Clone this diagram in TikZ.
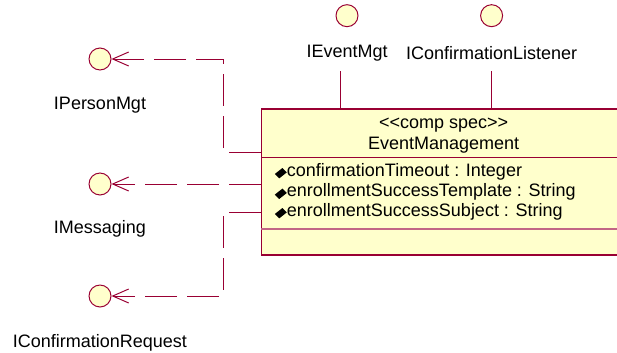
\documentclass[tikz,border=0pt]{standalone}
\usepackage{fontspec}
\setmainfont{Liberation Sans}
\usetikzlibrary{arrows.meta}
\definecolor{umlred}{RGB}{153,0,51}
\definecolor{umlfill}{RGB}{255,255,204}

\begin{document}
\begin{tikzpicture}[
  iface/.style={circle,draw=umlred,fill=umlfill,line width=0.7pt,minimum size=0.55cm,inner sep=0pt},
  lbl/.style={font=\fontsize{12.8}{15}\selectfont,inner sep=0pt},
  dep/.style={draw=umlred,line width=0.7pt,dash pattern=on 0.8cm off 0.25cm,-{Straight Barb[length=0.4cm,width=0.35cm]}},
  real/.style={draw=umlred,line width=0.7pt}
]
\useasboundingbox (0,0) rectangle (15.425,8.8);
\clip (0,0) rectangle (15.425,8.8);

% component box
\node[draw=umlred,fill=umlfill,line width=1pt,minimum width=10cm,minimum height=3.6675cm,anchor=north west,inner sep=0pt] (em) at (6.525,6.0925) {};
\draw[umlred,line width=1.3pt] (6.525,2.425) -- (16.5,2.425);
\draw[umlred,line width=1pt] (6.525,4.8675) -- (16.5,4.8675);
\draw[umlred!60,line width=1pt] (6.525,3.075) -- (16.5,3.075);
\node[lbl] at (11.09,5.675) {{<}{<}comp spec{>}{>}};
\node[lbl] at (11.09,5.175) {EventManagement};
\fill (6.87,4.45) -- (7.06,4.6) -- (7.17,4.49) -- (6.98,4.34) -- cycle;
\node[lbl,anchor=west] at (7.1675,4.5075) {confirmationTimeout : Integer};
\fill (6.87,3.935) -- (7.06,4.085) -- (7.17,3.975) -- (6.98,3.825) -- cycle;
\node[lbl,anchor=west] at (7.1675,3.9925) {enrollmentSuccessTemplate : String};
\fill (6.87,3.45) -- (7.06,3.6) -- (7.17,3.49) -- (6.98,3.34) -- cycle;
\node[lbl,anchor=west] at (7.1675,3.5075) {enrollmentSuccessSubject : String};

% provided interfaces
\node[iface] (ev) at (8.675,8.408) {};
\node[lbl] (l-ev) at (8.675,7.4675) {IEventMgt};
\node[iface] (cl) at (12.29,8.408) {};
\node[lbl] (l-cl) at (12.29,7.4675) {IConfirmationListener};
\coordinate (ev-end) at (8.5,7.0175);
\coordinate (ev-box) at (8.5,6.0925);
\coordinate (cl-end) at (12.29,7.0175);
\coordinate (cl-box) at (12.29,6.0925);
\draw[real] (ev-end) -- (ev-box);
\draw[real] (cl-end) -- (cl-box);

% required interfaces
\node[iface] (pm) at (2.5,7.325) {};
\node[lbl] (l-pm) at (2.5,6.175) {IPersonMgt};
\node[iface] (ms) at (2.5,4.2) {};
\node[lbl] (l-ms) at (2.5,3.075) {IMessaging};
\node[iface] (cr) at (2.5,1.4) {};
\node[lbl] (l-cr) at (2.5,0.225) {IConfirmationRequest};
\coordinate (pm-box) at (6.525,5.0);
\coordinate (ms-box) at (6.525,4.2);
\coordinate (cr-box) at (6.525,3.5);
\draw[dep] (pm-box) -- (5.575,5.0) |- (pm);
\draw[dep] (ms-box) -- (ms);
\draw[dep] (cr-box) -- (5.575,3.5) |- (cr);

\end{tikzpicture}
\end{document}
